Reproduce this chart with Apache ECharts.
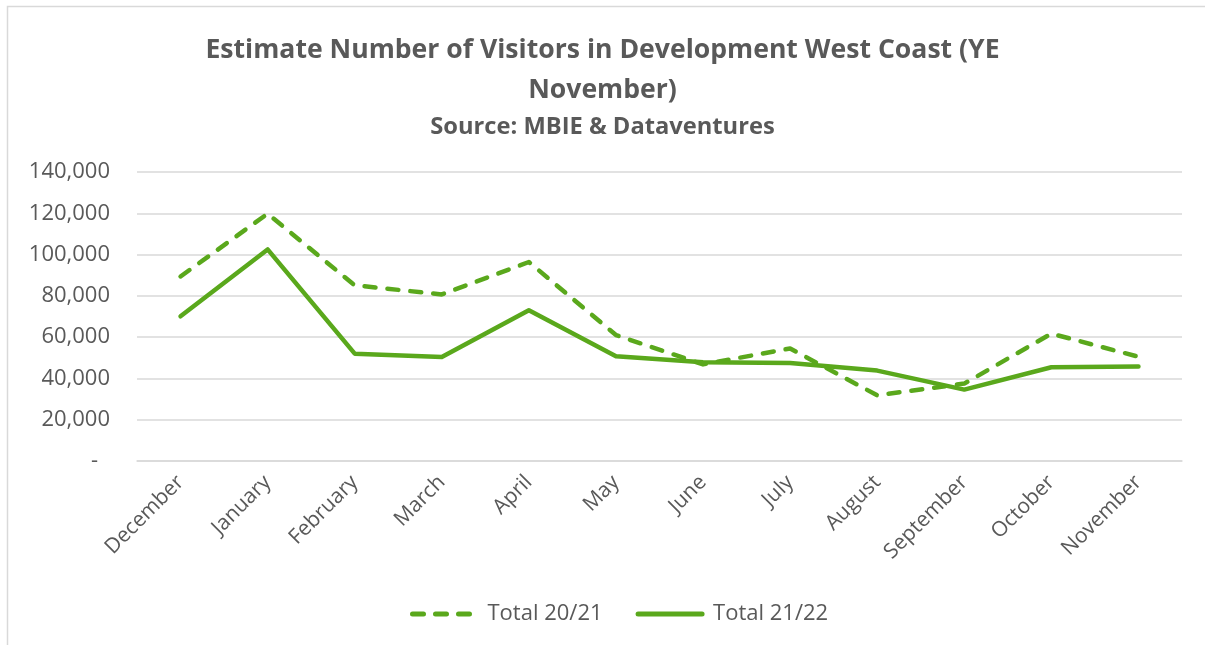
<!DOCTYPE html>
<html>
<head>
<meta charset="utf-8">
<title>Estimate Number of Visitors in Development West Coast</title>
<script src="https://cdn.jsdelivr.net/npm/echarts@6/dist/echarts.min.js"></script>
<style>
  html, body { margin: 0; padding: 0; background: #fff; }
  #chart { width: 1205px; height: 645px; }
</style>
</head>
<body>
<div id="chart"></div>
<script>
// Months of the year ending November
const months = ['December', 'January', 'February', 'March', 'April', 'May',
  'June', 'July', 'August', 'September', 'October', 'November'];

// Estimated visitor counts per month
const total2021 = [89400, 119800, 85100, 80700, 96400, 61000,
  46800, 54500, 31800, 37500, 61700, 50500];
const total2122 = [70100, 102500, 52000, 50400, 73000, 50700,
  47800, 47500, 43800, 34600, 45400, 45800];

// Value axis ticks
const yMin = 0, yMax = 140000, yStep = 20000;

const grey = '#595959';
const green = '#5aa81c';
const font = 'Open Sans';

const chart = echarts.init(document.getElementById('chart'));

chart.setOption({
  backgroundColor: '#fff',
  animation: false,
  textStyle: { fontFamily: font, color: grey },
  graphic: [{
    type: 'rect',
    shape: { x: 7.5, y: 6.5, width: 1250, height: 700 },
    style: { fill: 'none', stroke: '#d9d9d9', lineWidth: 1.5 },
    silent: true,
    z: -1
  }],
  title: [{
    text: 'Estimate Number of Visitors in Development West Coast (YE\nNovember)',
    left: 'center',
    top: 25,
    textStyle: {
      fontFamily: font, fontWeight: 'bold', fontSize: 26.6,
      color: grey, lineHeight: 40
    }
  }, {
    text: 'Source: MBIE & Dataventures',
    left: 'center',
    top: 107,
    textStyle: {
      fontFamily: font, fontWeight: 'bold', fontSize: 23.7,
      color: grey, lineHeight: 30
    }
  }],
  legend: {
    bottom: 15,
    left: 405,
    itemWidth: 64,
    itemHeight: 14,
    itemGap: 33,
    itemStyle: { opacity: 0 },
    lineStyle: { width: 5, cap: 'round' },
    textStyle: { fontFamily: font, fontSize: 22, color: grey, padding: [0, 0, 0, 6] },
    data: ['Total 20/21', 'Total 21/22']
  },
  grid: {
    left: 137,
    right: 23,
    top: 172,
    bottom: 645 - 461,
    containLabel: false
  },
  xAxis: {
    type: 'category',
    data: months,
    boundaryGap: true,
    axisLine: { show: true, lineStyle: { color: '#d9d9d9', width: 1.5 } },
    axisTick: { show: false },
    axisLabel: {
      rotate: 45,
      interval: 0,
      margin: 18,
      fontFamily: font,
      fontSize: 21,
      color: grey
    }
  },
  yAxis: {
    type: 'value',
    min: yMin,
    max: yMax,
    interval: yStep,
    axisLine: { show: false },
    axisTick: { show: false },
    splitLine: { lineStyle: { color: '#d9d9d9', width: 1.5 } },
    axisLabel: {
      margin: 27,
      fontFamily: font,
      fontSize: 22,
      color: grey,
      formatter: function (v) {
        return v === 0 ? '{d|-}' : v.toLocaleString('en-US');
      },
      rich: { d: { fontFamily: font, fontSize: 22, color: grey, padding: [0, 12, 0, 0] } }
    }
  },
  series: [{
    name: 'Total 20/21',
    type: 'line',
    data: total2021,
    symbol: 'none',
    itemStyle: { color: green },
    lineStyle: { color: green, width: 4.5, type: [11, 12], cap: 'round', join: 'round' }
  }, {
    name: 'Total 21/22',
    type: 'line',
    data: total2122,
    symbol: 'none',
    itemStyle: { color: green },
    lineStyle: { color: green, width: 4.5, cap: 'round', join: 'round' }
  }]
});
</script>
</body>
</html>
